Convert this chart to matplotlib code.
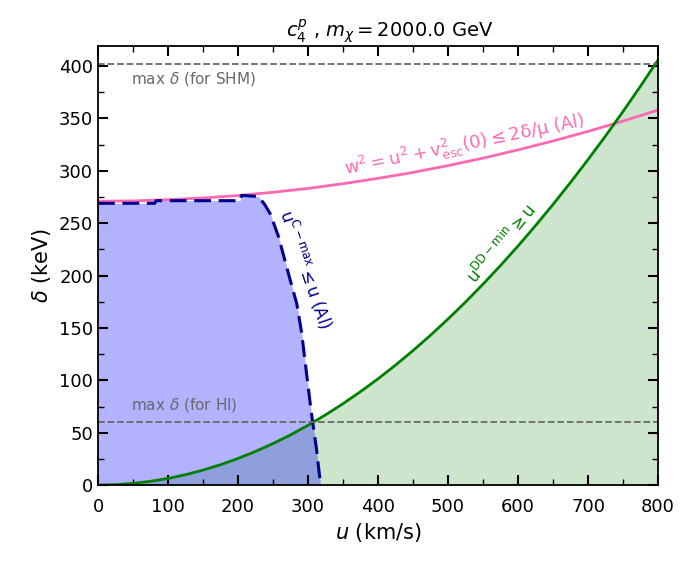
import matplotlib
matplotlib.use("Agg")
import matplotlib.pyplot as plt
from matplotlib.ticker import MultipleLocator

# --- data ---
u_green = [0, 25, 50, 75, 100, 125, 150, 175, 200, 225, 250, 275, 300, 325, 350, 375, 400,
           425, 450, 475, 500, 525, 550, 575, 600, 625, 650, 675, 700, 725, 750, 775, 800]
d_green = [0, 0.4, 1.6, 3.6, 6.3, 9.9, 14.3, 19.4, 25.4, 32.1, 39.6, 47.9, 57.1, 67.0, 77.7, 89.2, 101.4,
           114.5, 128.4, 143.0, 158.5, 174.7, 191.8, 209.6, 228.2, 247.7, 267.9, 288.9, 310.7, 333.2, 356.6, 380.8, 405.8]

u_pink = [0, 50, 100, 150, 200, 250, 300, 350, 400, 450, 500, 550, 600, 650, 700, 750, 800]
d_pink = [271.0, 271.3, 272.4, 274.1, 276.4, 279.5, 283.2, 287.7, 292.8, 298.5, 305.0, 312.1, 320.0,
          328.5, 337.6, 347.5, 358.0]

u_blue = [0, 81, 83, 203, 205, 229, 238, 246, 258, 272, 284, 291, 298, 305, 312, 318]
d_blue = [269, 269, 271.5, 271.5, 276.5, 275.5, 268, 259, 237, 202, 173, 145, 106, 68, 35, 0]

max_delta_shm = 402
max_delta_hi = 60

fig = plt.figure(figsize=(7, 5.7), dpi=100)
ax = fig.add_axes([0.14, 0.149, 0.8, 0.770])

ax.fill_between(u_green, 0, d_green, color='green', alpha=0.2, lw=0)
ax.fill_between(u_blue, 0, d_blue, color='blue', alpha=0.3, lw=0)

ax.plot(u_pink, d_pink, color='hotpink', lw=2)
ax.plot(u_green, d_green, color='green', lw=2)
ax.plot(u_blue, d_blue, color='darkblue', lw=2.2, ls=(0, (5.5, 2.5)))

ax.axhline(max_delta_shm, color='dimgray', ls='--', lw=1.3)
ax.axhline(max_delta_hi, color='dimgray', ls='--', lw=1.3)

ax.text(47, 388, r'max $\delta$ (for SHM)', color='dimgray', fontsize=11, va='center')
ax.text(47, 76, r'max $\delta$ (for HI)', color='dimgray', fontsize=11, va='center')

ax.text(524, 324, r'$\mathrm{w^2 = u^2 + v_{esc}^2(0) \leq 2\delta/\mu}$ (Al)', color='hotpink',
        fontsize=13, rotation=11.5, ha='center', va='center', rotation_mode='anchor')
ax.text(297, 206, r'$\mathrm{u^{C-max} \leq u}$ (Al)', color='darkblue',
        fontsize=12, rotation=-71, ha='center', va='center', rotation_mode='anchor')
ax.text(576, 231, r'$\mathrm{u^{DD-min} \geq u}$', color='green',
        fontsize=12, rotation=50, ha='center', va='center', rotation_mode='anchor')

ax.set_xlim(0, 800)
ax.set_ylim(0, 419)
ax.xaxis.set_major_locator(MultipleLocator(100))
ax.xaxis.set_minor_locator(MultipleLocator(50))
ax.yaxis.set_major_locator(MultipleLocator(50))
ax.yaxis.set_minor_locator(MultipleLocator(25))
ax.tick_params(which='both', direction='in', top=True, right=True, labelsize=13)
ax.tick_params(which='major', length=7, width=1.5)
ax.tick_params(which='minor', length=4, width=1)
ax.tick_params(axis='x', which='major', pad=9)
for s in ax.spines.values():
    s.set_linewidth(1.3)

ax.set_xlabel(r'$u$ (km/s)', fontsize=15)
ax.set_ylabel(r'$\delta$ (keV)', fontsize=15)
ax.set_title(r'$c_4^p$ , $m_\chi = 2000.0$ GeV', fontsize=14, x=0.521)

fig.savefig('out.png', dpi=100)
